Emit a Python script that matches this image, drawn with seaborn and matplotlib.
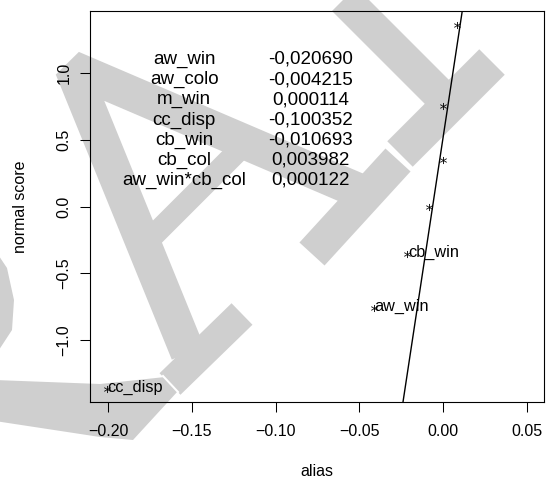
import matplotlib
matplotlib.use("Agg")
import matplotlib.pyplot as plt
from matplotlib.lines import Line2D
from matplotlib.patches import Polygon
import seaborn as sns
import pandas as pd
import numpy as np

# effects (alias) with their normal scores
alias = [-0.2007, -0.0414, -0.0214, -0.0084, 0.0002, 0.0002, 0.0080]
normal_score = [-1.365, -0.758, -0.353, 0.0, 0.353, 0.758, 1.365]
point_labels = ["cc_disp", "aw_win", "cb_win", "", "", "", ""]

# reference line: alias = line_x0 + line_slope * normal score
line_x0 = -0.0063
line_slope = 0.01206

# coefficient table written in the plot
coef_names = ["aw_win", "aw_colo", "m_win", "cc_disp", "cb_win", "cb_col", "aw_win*cb_col"]
coef_values = ["-0,020690", "-0,004215", "0,000114", "-0,100352", "-0,010693", "0,003982", "0,000122"]

xticks = [-0.20, -0.15, -0.10, -0.05, 0.00, 0.05]
yticks = [-1.0, -0.5, 0.0, 0.5, 1.0]

plt.rcParams['font.family'] = ['Liberation Sans', 'DejaVu Sans']

df = pd.DataFrame({'alias': alias, 'normal score': normal_score, 'label': point_labels})

W, H = 549, 480
fig = plt.figure(figsize=(W / 100, H / 100), dpi=100)
fig.patch.set_facecolor('white')
ax = fig.add_axes([90 / W, 1 - 402 / H, 454 / W, 391.3 / H])
ax.patch.set_alpha(0)

# grey watermark behind everything else of the axes (figure pixel coords, y down)
wm_col = '#cfcfcf'
wm_strokes = [
    ([(188, 353), (72, 68), (357, 190)], 35, 'bevel'),
    ([(140, 249), (243, 146)], 22, 'miter'),
    ([(242, 314), (170, 384)], 30, 'miter'),
    ([(398, 160), (312, 254)], 34, 'miter'),
    ([(320, -25), (442, 97)], 34, 'miter'),
    ([(492, 62), (400, 154)], 36, 'miter'),
]
for pts, w, join in wm_strokes:
    ax.add_artist(Line2D([p[0] / W for p in pts], [1 - p[1] / H for p in pts],
                         transform=fig.transFigure, color=wm_col, lw=w * 0.72,
                         solid_capstyle='butt', solid_joinstyle=join,
                         clip_on=False, zorder=0.3))
wm_shapes = [
    [(-5, 380), (100, 384), (165, 377), (178, 391), (133, 440), (100, 437), (-5, 421)],
    [(-5, 250), (7, 268), (14, 300), (12, 330), (-5, 356)],
]
for pts in wm_shapes:
    ax.add_artist(Polygon([(p[0] / W, 1 - p[1] / H) for p in pts], closed=True,
                          transform=fig.transFigure, facecolor=wm_col,
                          edgecolor='none', clip_on=False, zorder=0.3))
ax.add_artist(Line2D([163 / W, 178 / W], [1 - 376 / H, 1 - 392 / H],
                     transform=fig.transFigure, color='white', lw=1.5,
                     clip_on=False, zorder=0.4))

ax.set_xlim(-0.2108, 0.0602)
ax.set_ylim(-1.465, 1.47)

# points drawn as asterisks
sns.scatterplot(data=df, x='alias', y='normal score', marker='$*$', s=26,
                color='black', linewidth=0, ax=ax, zorder=3)

# reference line across the whole plot
ys = np.array(ax.get_ylim())
xs = line_x0 + line_slope * ys
sns.lineplot(x=xs, y=ys, sort=False, estimator=None, color='black', lw=1.0, ax=ax)

for _, r in df.iterrows():
    if r['label']:
        ax.annotate(r['label'], (r['alias'], r['normal score']), xytext=(0.5, -2.6),
                    textcoords='offset points', ha='left', va='baseline', fontsize=11.7)

# table of coefficients
name_x, value_x = -0.1545, -0.0790
row_y0, row_step = 1.0705, 0.1513
for i, (n, v) in enumerate(zip(coef_names, coef_values)):
    yy = row_y0 - i * row_step
    ax.text(name_x, yy, n, ha='center', va='baseline', fontsize=13.5)
    ax.text(value_x, yy, v, ha='center', va='baseline', fontsize=13.5)

ax.set_xticks(xticks)
ax.set_xticklabels([f"{t:.2f}".replace('-', '\u2212') for t in xticks])
ax.set_yticks(yticks)
ax.set_yticklabels([f"{t:.1f}".replace('-', '\u2212') for t in yticks], rotation=90, va='center')
ax.tick_params(axis='both', direction='out', length=6.9, width=0.75, labelsize=11.5, colors='black')
ax.tick_params(axis='x', pad=9)
ax.tick_params(axis='y', pad=6.5)
for s in ax.spines.values():
    s.set_color('black')
    s.set_linewidth(0.8)
    s.set_zorder(2.5)

ax.set_xlabel('alias', fontsize=11.5)
ax.xaxis.set_label_coords(0.5, -0.158)
ax.set_ylabel('normal score', fontsize=11.5)
ax.yaxis.set_label_coords(-0.137, 0.5)
if ax.get_legend():
    ax.get_legend().remove()

fig.savefig('out.png', dpi=100, facecolor='white')
